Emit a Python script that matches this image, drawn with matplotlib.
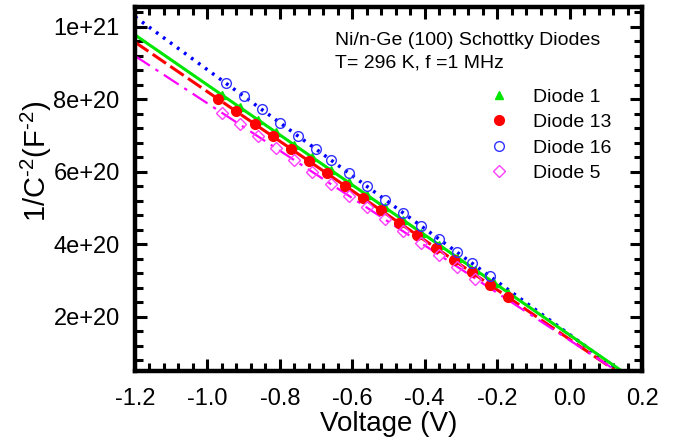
import matplotlib
matplotlib.use('Agg')
import matplotlib.pyplot as plt
from matplotlib.ticker import MultipleLocator

plt.rcParams['font.family'] = ['Liberation Sans', 'DejaVu Sans']
plt.rcParams['mathtext.fontset'] = 'custom'
plt.rcParams['mathtext.rm'] = 'Liberation Sans'
plt.rcParams['mathtext.it'] = 'Liberation Sans:italic'

# measured points (x in V, y in 1e20 F^-2)
x_d1 = [-0.96, -0.91, -0.86, -0.81, -0.76, -0.71, -0.66, -0.61, -0.56,
        -0.51, -0.46, -0.41, -0.36, -0.31, -0.26, -0.21, -0.17]
y_d1 = [8.12, 7.78, 7.43, 7.09, 6.74, 6.40, 6.05, 5.71, 5.36,
        5.02, 4.67, 4.33, 3.98, 3.64, 3.29, 2.95, 2.67]

x_d13 = [-0.97, -0.92, -0.87, -0.82, -0.77, -0.72, -0.67, -0.62, -0.57,
         -0.52, -0.47, -0.42, -0.37, -0.32, -0.27, -0.22, -0.17]
y_d13 = [8.01, 7.67, 7.33, 6.98, 6.64, 6.30, 5.96, 5.62, 5.28,
         4.94, 4.59, 4.25, 3.91, 3.57, 3.23, 2.89, 2.55]

x_d16 = [-0.95, -0.90, -0.85, -0.80, -0.75, -0.70, -0.66, -0.61,
         -0.56, -0.51, -0.46, -0.41, -0.36, -0.31, -0.27, -0.22]
y_d16 = [8.46, 8.09, 7.73, 7.36, 7.00, 6.63, 6.34, 5.97,
         5.61, 5.24, 4.88, 4.51, 4.15, 3.78, 3.49, 3.13]

x_d5 = [-0.96, -0.91, -0.86, -0.81, -0.76, -0.71, -0.66, -0.61,
        -0.56, -0.51, -0.46, -0.41, -0.36, -0.31, -0.26]
y_d5 = [7.63, 7.31, 6.98, 6.65, 6.33, 6.00, 5.67, 5.35,
        5.02, 4.69, 4.37, 4.04, 3.71, 3.39, 3.06]

# linear fits, end points
fit_x = [-1.2, 0.15]
fit_d1 = [9.78, 0.47]
fit_d13 = [9.58, 0.36]
fit_d16 = [10.28, 0.42]
fit_d5 = [9.20, 0.38]

scale = 1e20

fig = plt.figure(figsize=(6.87, 4.43), dpi=100)
ax = fig.add_axes([0.1965, 0.1625, 0.738, 0.8217])

green = '#00e600'
red = '#ff0000'
blue = '#0000ff'
magenta = '#ff00ff'

# fit lines
ax.plot(fit_x, [v * scale for v in fit_d16], color=blue, lw=2.5, ls=(0, (0.8, 1.7)))
ax.plot(fit_x, [v * scale for v in fit_d1], color=green, lw=2.2, ls='-')
ax.plot(fit_x, [v * scale for v in fit_d13], color=red, lw=2.2, ls=(0, (5.3, 1.7)))
ax.plot(fit_x, [v * scale for v in fit_d5], color=magenta, lw=1.6, ls=(0, (8, 3, 1.5, 3)))

# data points
ax.plot(x_d1, [v * scale for v in y_d1], ls='none', marker='^', ms=6,
        color=green, label='Diode 1')
ax.plot(x_d13, [v * scale for v in y_d13], ls='none', marker='o', ms=7,
        color=red, label='Diode 13')
ax.plot(x_d16, [v * scale for v in y_d16], ls='none', marker='o', ms=7,
        mfc='none', mec='#3030ff', mew=1.0, label='Diode 16')
ax.plot(x_d5, [v * scale for v in y_d5], ls='none', marker='D', ms=6.5,
        mfc='none', mec='#ff40ff', mew=1.0, label='Diode 5')

ax.set_xlim(-1.2, 0.2)
ax.set_ylim(0.51e20, 10.55e20)

ax.xaxis.set_minor_locator(MultipleLocator(0.04))
ax.yaxis.set_minor_locator(MultipleLocator(0.4e20))
ax.set_xticks([-1.2, -1.0, -0.8, -0.6, -0.4, -0.2, 0.0, 0.2])
ax.set_xticklabels(['-1.2', '-1.0', '-0.8', '-0.6', '-0.4', '-0.2', '0.0', '0.2'])
ax.set_yticks([2e20, 4e20, 6e20, 8e20, 10e20])
ax.set_yticklabels(['2e+20', '4e+20', '6e+20', '8e+20', '1e+21'])

ax.tick_params(which='both', direction='in', top=True, right=True, width=2.2)
ax.tick_params(which='major', length=8.6, labelsize=17)
ax.tick_params(axis='x', which='major', pad=12)
ax.tick_params(axis='y', which='major', pad=11)
ax.tick_params(which='minor', length=6)
for s in ax.spines.values():
    s.set_linewidth(3.2)

ax.set_xlabel('Voltage (V)', fontsize=20, labelpad=1)
ax.set_ylabel(r'1/C$^{\text{-2}}$(F$^{\text{-2}}$)', fontsize=21, va='center')
ax.yaxis.set_label_coords(-0.195, 0.575)

ax.text(0.395, 0.907, 'Ni/n-Ge (100) Schottky Diodes', transform=ax.transAxes,
        fontsize=14, va='center')
ax.text(0.395, 0.846, 'T= 296 K, f =1 MHz', transform=ax.transAxes,
        fontsize=14, va='center')

ax.legend(loc='upper left', bbox_to_anchor=(0.699, 0.777), frameon=False,
          fontsize=14, handlelength=1.0, handletextpad=1.25,
          labelspacing=0.40, borderaxespad=0, borderpad=0)

fig.savefig('out.png', dpi=100)
